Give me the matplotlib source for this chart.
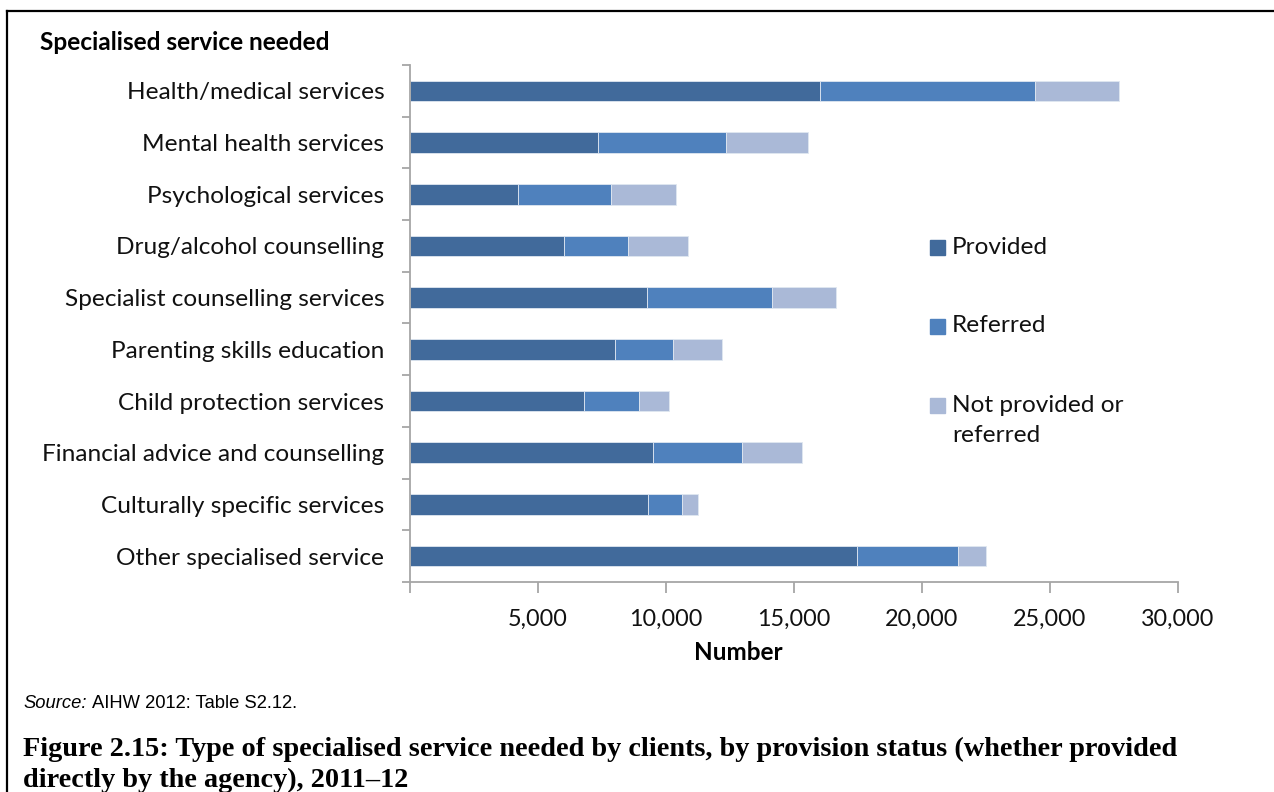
import matplotlib
matplotlib.use("Agg")
import matplotlib.pyplot as plt
from matplotlib.lines import Line2D
from matplotlib.patches import Rectangle
from matplotlib.ticker import FuncFormatter
import numpy as np

categories = [
    "Health/medical services",
    "Mental health services",
    "Psychological services",
    "Drug/alcohol counselling",
    "Specialist counselling services",
    "Parenting skills education",
    "Child protection services",
    "Financial advice and counselling",
    "Culturally specific services",
    "Other specialised service",
]
provided = [16000, 7360, 4200, 6000, 9260, 8010, 6800, 9490, 9300, 17470]
referred = [8400, 4970, 3660, 2500, 4870, 2250, 2130, 3460, 1310, 3950]
not_provided = [3310, 3200, 2520, 2350, 2510, 1930, 1170, 2380, 650, 1070]

series_names = ["Provided", "Referred", "Not provided or\nreferred"]
colors = ["#416a9b", "#4f81bd", "#aab9d7"]
x_ticks = [5000, 10000, 15000, 20000, 25000, 30000]

sans = ["Lato", "DejaVu Sans"]
serif = ["Liberation Serif", "DejaVu Serif"]
arial = ["Liberation Sans", "DejaVu Sans"]
plt.rcParams["font.family"] = sans

W, H = 1274, 792


def fx(px):
    return px / W


def fy(py):
    return 1 - py / H


fig = plt.figure(figsize=(W / 100, H / 100), dpi=100)
ax = fig.add_axes([fx(410), fy(582), 768 / W, 517 / H])

y = np.arange(len(categories))
left = np.zeros(len(categories))
for vals, name, col in zip([provided, referred, not_provided], series_names, colors):
    ax.barh(y, vals, left=left, height=0.4, color=col, label=name,
            edgecolor="#dfe7f1", linewidth=0.6)
    left = left + np.array(vals)

ax.set_ylim(len(categories) - 0.5, -0.5)
ax.set_xlim(0, 30000)

grey = "#a6a6a6"
for side in ["top", "right"]:
    ax.spines[side].set_visible(False)
for side in ["left", "bottom"]:
    ax.spines[side].set_color(grey)
    ax.spines[side].set_linewidth(1.3)

# y ticks sit between categories; labels at the category centres
ax.set_yticks(np.arange(-0.5, len(categories), 1.0))
ax.set_yticklabels([])
ax.set_yticks(y, minor=True)
ax.set_yticklabels(categories, minor=True, fontsize=17.6, color="#111111")
ax.tick_params(axis="y", which="major", length=6, width=1.3, color=grey, direction="out")
ax.tick_params(axis="y", which="minor", length=0, pad=18.5)

ax.set_xticks([0] + x_ticks)
ax.xaxis.set_major_formatter(FuncFormatter(lambda v, p: "" if v == 0 else f"{int(v):,}"))
ax.tick_params(axis="x", length=8, width=1.3, color=grey, direction="out",
               labelsize=16.8, pad=11, labelcolor="#111111")

ax.set_xlabel("Number", fontsize=17.5, fontweight="bold", labelpad=6)
ax.xaxis.set_label_coords((738 - 410) / 768, -0.115)

# legend: colour swatches with labels to the right
leg_rows = [247, 326, 405]
for name, col, row in zip(series_names, colors, leg_rows):
    fig.patches.append(Rectangle((fx(930), fy(row + 7.5)), 15 / W, 15 / H,
                                 transform=fig.transFigure, color=col))
    lines = name.split("\n")
    for i, line in enumerate(lines):
        fig.text(fx(952), fy(row + 31 * i), line, fontsize=17.6, va="center",
                 ha="left", color="#111111")

fig.text(fx(40), fy(42), "Specialised service needed", fontsize=17.6,
         fontweight="bold", va="center", ha="left")

fig.text(fx(23), fy(704), "Source:", fontsize=13.2, style="italic",
         family=arial, va="center", ha="left")
fig.text(fx(92), fy(704), "AIHW 2012: Table S2.12.", fontsize=13.2,
         family=arial, va="center", ha="left")

title_lines = [
    "Figure 2.15: Type of specialised service needed by clients, by provision status (whether provided",
    "directly by the agency), 2011\u201312",
]
for i, line in enumerate(title_lines):
    fig.text(fx(23), fy(749 + 31 * i), line, fontsize=20.3, fontweight="bold",
             family=serif, va="center", ha="left")

# frame lines along the top and left of the page area
fig.add_artist(Line2D([fx(7), 1.0], [fy(11)] * 2, transform=fig.transFigure,
                      color="black", lw=1.6))
fig.add_artist(Line2D([fx(7)] * 2, [fy(11), 0.0], transform=fig.transFigure,
                      color="black", lw=1.6))

fig.savefig("out.png", dpi=100)
